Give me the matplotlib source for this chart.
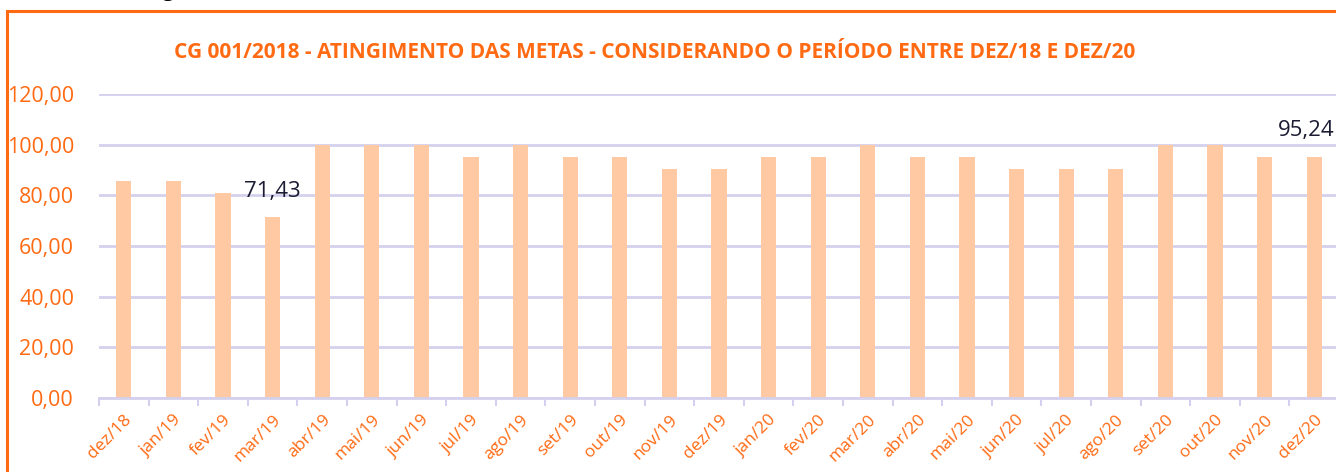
import matplotlib
matplotlib.use("Agg")
import matplotlib.pyplot as plt
from matplotlib.patches import Rectangle
from matplotlib.ticker import FixedLocator

categories = ["dez/18", "jan/19", "fev/19", "mar/19", "abr/19", "mai/19", "jun/19",
              "jul/19", "ago/19", "set/19", "out/19", "nov/19", "dez/19", "jan/20",
              "fev/20", "mar/20", "abr/20", "mai/20", "jun/20", "jul/20", "ago/20",
              "set/20", "out/20", "nov/20", "dez/20"]
values = [85.71, 85.71, 80.95, 71.43, 100.00, 100.00, 100.00, 95.24, 100.00, 95.24,
          95.24, 90.48, 90.48, 95.24, 95.24, 100.00, 95.24, 95.24, 90.48, 90.48,
          90.48, 100.00, 100.00, 95.24, 95.24]
labeled = {"mar/19": "71,43", "dez/20": "95,24"}
yticks = [0, 20, 40, 60, 80, 100, 120]
ytick_labels = ["0,00", "20,00", "40,00", "60,00", "80,00", "100,00", "120,00"]
title = "CG 001/2018 - ATINGIMENTO DAS METAS - CONSIDERANDO O PERÍODO ENTRE DEZ/18 E DEZ/20"

W, H = 1336, 472
fig = plt.figure(figsize=(W / 100, H / 100), dpi=100)
orange = "#FF6A13"
grid_c = "#D4D0EE"
bar_c = "#FFCAA3"
plt.rcParams["font.family"] = ["Open Sans", "DejaVu Sans"]

# outer frame
fig.patches.append(Rectangle((6.5 / W, -0.1), 1.2, (H - 10.5) / H + 0.1,
                             transform=fig.transFigure, fill=False,
                             edgecolor=orange, linewidth=2.2))
fig.text(163 / W, 1 + 3 / H, "g", fontsize=14, color="black", va="baseline")

x0, x1 = 99, 1339
y0, y1 = 398, 94
ax = fig.add_axes([x0 / W, (H - y0) / H, (x1 - x0) / W, (y0 - y1) / H])
xs = list(range(len(categories)))
ax.bar(xs, values, width=0.31, color=bar_c, zorder=2)
ax.set_xlim(-0.5, len(categories) - 0.5)
ax.set_ylim(0, 120)
ax.set_yticks(yticks)
ax.set_yticklabels(ytick_labels, color=orange, fontsize=15.5)
ax.set_xticks(xs)
ax.set_xticklabels(categories, rotation=45, ha="right", rotation_mode="anchor",
                   color=orange, fontsize=12.5)
ax.tick_params(axis="x", length=0, pad=10)
ax.xaxis.set_minor_locator(FixedLocator([i - 0.5 for i in range(len(categories) + 1)]))
ax.tick_params(axis="x", which="minor", length=6, width=1.5, color=grid_c)
ax.tick_params(axis="y", length=0, pad=18)
for s in ["top", "right", "left"]:
    ax.spines[s].set_visible(False)
ax.spines["bottom"].set_color(grid_c)
ax.spines["bottom"].set_linewidth(2)
ax.yaxis.grid(True, color=grid_c, linewidth=2, zorder=0)
ax.set_axisbelow(True)

offsets = {"mar/19": (0, 11), "dez/20": (-6, 11)}
for i, c in enumerate(categories):
    if c in labeled:
        ax.annotate(labeled[c], (i, values[i]), xytext=offsets[c], textcoords="offset points",
                    ha="center", va="bottom", fontsize=16, color="#1B1B33")

fig.text(655 / W, 1 - 52 / H, title, ha="center", va="center", fontsize=15,
         fontweight="bold", color=orange)

fig.savefig("out.png", dpi=100)
